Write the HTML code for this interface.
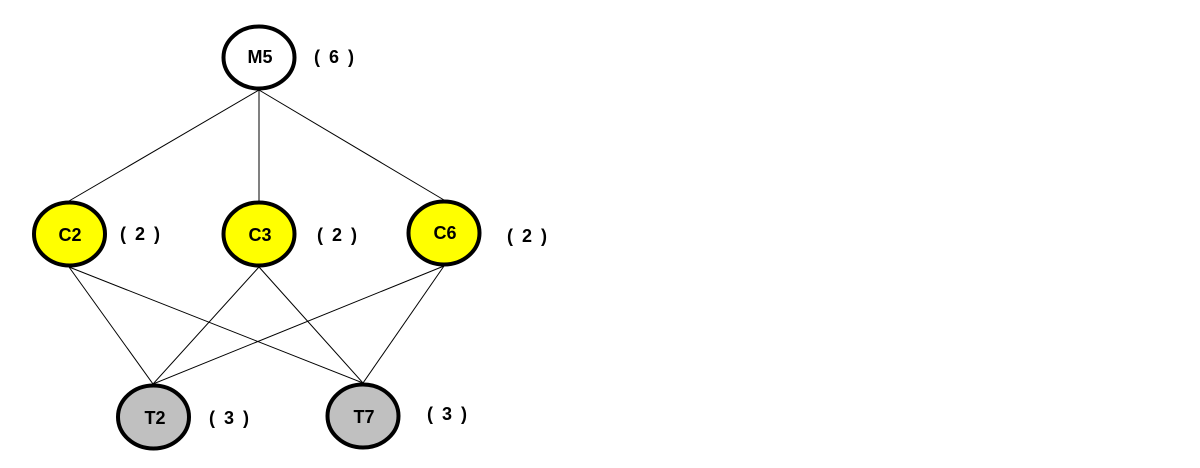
<!DOCTYPE html>
<html><head><style>body{margin:0;background:#fff}</style></head><body>
<svg width="1200" height="463" xmlns="http://www.w3.org/2000/svg" font-family="Liberation Sans, Arial, sans-serif" font-weight="bold">
<g stroke="#000" stroke-width="1">
<line x1="259" y1="90" x2="69" y2="201"/>
<line x1="259" y1="90" x2="259" y2="201"/>
<line x1="259" y1="90" x2="444" y2="200"/>
<line x1="69" y1="267" x2="153" y2="384"/>
<line x1="69" y1="267" x2="363" y2="383"/>
<line x1="259" y1="267" x2="153" y2="384"/>
<line x1="259" y1="267" x2="363" y2="383"/>
<line x1="444" y1="266" x2="153" y2="384"/>
<line x1="444" y1="266" x2="363" y2="383"/>
</g>
<g stroke="#000" stroke-width="4">
<ellipse cx="259" cy="57.5" rx="35.5" ry="31" fill="#fff"/>
<ellipse cx="69.5" cy="234" rx="35.5" ry="31.5" fill="#ffff00"/>
<ellipse cx="259" cy="234" rx="35.5" ry="31.5" fill="#ffff00"/>
<ellipse cx="444" cy="233" rx="35.5" ry="31.5" fill="#ffff00"/>
<ellipse cx="153.5" cy="417" rx="35.5" ry="31.5" fill="#c0c0c0"/>
<ellipse cx="363" cy="416" rx="35.5" ry="31.5" fill="#c0c0c0"/>
</g>
<g font-size="18" text-anchor="middle" fill="#000">
<text x="260" y="63">M5</text>
<text x="70" y="241">C2</text>
<text x="260" y="241">C3</text>
<text x="445" y="239">C6</text>
<text x="155" y="424">T2</text>
<text x="364" y="423">T7</text>
<g letter-spacing="2">
<text x="335" y="63" xml:space="preserve">( 6 )</text>
<text x="141" y="240" xml:space="preserve">( 2 )</text>
<text x="338" y="241" xml:space="preserve">( 2 )</text>
<text x="528" y="242" xml:space="preserve">( 2 )</text>
<text x="230" y="424" xml:space="preserve">( 3 )</text>
<text x="448" y="420" xml:space="preserve">( 3 )</text>
</g>
</g>
</svg>
</body></html>
